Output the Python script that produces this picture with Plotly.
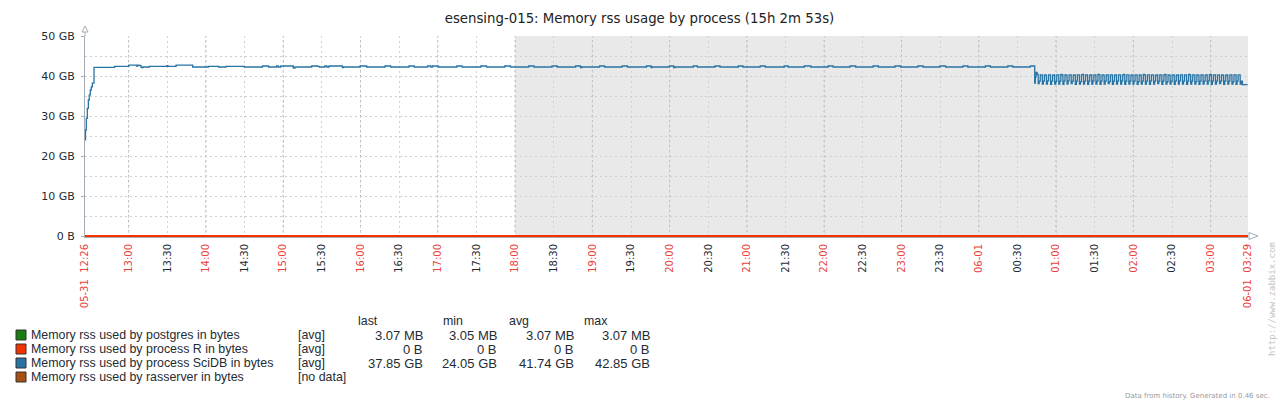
import pandas as pd
import plotly.graph_objects as go

# ---------------- data ----------------
start = pd.Timestamp("2017-05-31 12:26:07")
end = pd.Timestamp("2017-06-01 03:29:00")
off_hours_start = pd.Timestamp("2017-05-31 18:00:00")

# SciDB RSS in GB: step changes (minutes after start, value)
scidb_min = [0, 0.4, 1.0, 1.8, 2.6, 3.3, 4.1, 4.9, 5.7, 7.0, 23, 34, 40, 41, 42.5,
             43.6, 45, 50, 63.5, 64.3, 70.7, 83.6, 95.8, 103.7, 109.4, 123.7, 137.8,
             142.5, 148.7, 150, 152, 161.7, 163, 176, 180.4, 182, 186.2, 187.7, 189.5,
             199.8, 200.6, 213.5, 218.7, 232.9, 237.3, 251.5, 255.6, 266, 268.5, 269.8,
             274.2, 288.7, 292.8, 307.3, 311.7, 325.9, 330.3, 344.5, 348.6, 362.5,
             366.6, 380.9, 384.7, 385.7, 399.5, 403.4, 417, 421.1, 435.9, 439.5, 440.3,
             453.7, 457, 458.1, 472.3, 475.4, 489.1, 493, 507.2, 510.8, 524.2, 528.1,
             542.8, 545.9, 558.5, 563.5, 576.9, 580.8, 594, 598.3, 611.8, 615.9, 628.9,
             633.2, 646.6, 650.7, 663.7, 668.1, 681.6, 685.4, 699, 702.9, 716.4, 720.3,
             733.9, 737.3, 737.8]
scidb_gb = [24.05, 26.5, 29.4, 31.9, 34.0, 35.3, 36.5, 37.3, 38.2, 42.17, 42.42, 42.72,
            42.5, 42.72, 42.58, 42.08, 42.25, 42.42, 42.6, 42.42, 42.72, 42.25, 42.42,
            42.25, 42.42, 42.25, 42.5, 42.25, 42.5, 42.25, 42.5, 42.0, 42.25, 42.5,
            42.42, 42.25, 42.5, 42.25, 42.5, 42.08, 42.25, 42.5, 42.25, 42.5, 42.25,
            42.5, 42.25, 42.5, 42.25, 42.5, 42.25, 42.5, 42.25, 42.5, 42.25, 42.5,
            42.25, 42.5, 42.25, 42.5, 42.25, 42.5, 42.08, 42.25, 42.5, 42.25, 42.5,
            42.25, 42.5, 42.08, 42.25, 42.5, 42.08, 42.25, 42.5, 42.25, 42.5, 42.25,
            42.5, 42.25, 42.5, 42.25, 42.5, 42.25, 42.5, 42.25, 42.5, 42.25, 42.5,
            42.25, 42.5, 42.25, 42.5, 42.25, 42.5, 42.25, 42.5, 42.25, 42.5, 42.25,
            42.5, 42.25, 42.5, 42.25, 42.5, 38.2, 39.8]

# oscillating period after 00:44, one sample every 48 s
osc_start_min = 738.4
osc_step = "48s"
osc_gb = [
    40.9, 40.4, 38.1, 38.7, 40.3, 40.3, 38.0, 38.7,
    40.3, 40.2, 38.0, 38.8, 40.3, 40.3, 37.9, 38.7,
    40.2, 40.3, 38.0, 38.6, 40.3, 40.3, 38.0, 38.7,
    40.4, 40.3, 37.9, 38.7, 40.3, 40.2, 38.0, 38.8,
    40.3, 40.3, 38.1, 38.7, 40.2, 40.3, 37.9, 38.7,
    40.3, 40.3, 38.0, 38.6, 40.3, 40.4, 38.0, 38.7,
    40.3, 40.3, 37.9, 38.7, 40.2, 40.3, 38.0, 38.8,
    40.3, 40.3, 38.0, 38.7, 40.4, 40.3, 37.9, 38.7,
    40.3, 40.2, 38.0, 38.7, 40.3, 40.3, 38.1, 38.6,
    40.3, 40.3, 37.9, 38.7, 40.2, 40.3, 38.0, 38.7,
    40.3, 40.3, 38.0, 38.8, 40.3, 40.4, 37.9, 38.7,
    40.3, 40.3, 38.0, 38.7, 40.2, 40.3, 38.0, 38.7,
    40.3, 40.3, 37.9, 38.6, 40.3, 40.2, 38.0, 38.7,
    40.4, 40.3, 38.0, 38.7, 40.3, 40.3, 37.9, 38.8,
    40.3, 40.3, 38.0, 38.7, 40.2, 40.3, 38.1, 38.7,
    40.3, 40.3, 37.9, 38.7, 40.3, 40.4, 38.0, 38.6,
    40.3, 40.2, 38.0, 38.7, 40.3, 40.3, 37.9, 38.7,
    40.2, 40.3, 38.0, 38.8, 40.3, 40.3, 38.0, 38.7,
    40.3, 40.3, 37.9, 38.7, 40.4, 40.3, 38.0, 38.7,
    40.3, 40.3, 38.0, 38.6, 40.3, 40.2, 37.9, 38.7,
    40.3, 40.3, 38.0, 38.7, 40.2, 40.3, 38.0, 38.8,
    40.3, 40.4, 37.9, 38.7, 40.3, 40.3, 38.0, 38.7,
    40.3, 40.3, 38.1, 38.7, 40.3, 40.2, 37.9, 38.7,
    40.2, 40.3, 38.0, 38.7, 40.3, 40.3, 38.0, 38.6,
    40.3, 40.3, 37.9, 38.7, 40.3, 40.3, 38.0, 38.7,
]
tail_min = [898.5, 902.5]
tail_gb = [37.85, 37.85]

# other items (GB)
postgres_gb = [0.00307, 0.00307]
r_gb = [0.0, 0.0]

# y axis ticks
y_tick_vals = [0, 10, 20, 30, 40, 50]
y_tick_text = ["0 B", "10 GB", "20 GB", "30 GB", "40 GB", "50 GB"]

# x axis tick labels
tick_times = ["2017-05-31 12:26:07", "2017-05-31 13:00", "2017-05-31 13:30", "2017-05-31 14:00",
              "2017-05-31 14:30", "2017-05-31 15:00", "2017-05-31 15:30", "2017-05-31 16:00",
              "2017-05-31 16:30", "2017-05-31 17:00", "2017-05-31 17:30", "2017-05-31 18:00",
              "2017-05-31 18:30", "2017-05-31 19:00", "2017-05-31 19:30", "2017-05-31 20:00",
              "2017-05-31 20:30", "2017-05-31 21:00", "2017-05-31 21:30", "2017-05-31 22:00",
              "2017-05-31 22:30", "2017-05-31 23:00", "2017-05-31 23:30", "2017-06-01 00:00",
              "2017-06-01 00:30", "2017-06-01 01:00", "2017-06-01 01:30", "2017-06-01 02:00",
              "2017-06-01 02:30", "2017-06-01 03:00", "2017-06-01 03:29:00"]
tick_labels = ["05-31\u00a0 12:26", "13:00", "13:30", "14:00", "14:30", "15:00", "15:30",
               "16:00", "16:30", "17:00", "17:30", "18:00", "18:30", "19:00", "19:30", "20:00",
               "20:30", "21:00", "21:30", "22:00", "22:30", "23:00", "23:30", "06-01",
               "00:30", "01:00", "01:30", "02:00", "02:30", "03:00", "06-01\u00a0 03:29"]

# legend table
legend_names = ["Memory rss used by postgres in bytes", "Memory rss used by process R in bytes",
                "Memory rss used by process SciDB in bytes", "Memory rss used by rasserver in bytes"]
legend_func = ["[avg]", "[avg]", "[avg]", "[no data]"]
legend_last = ["3.07 MB", "0 B", "37.85 GB", ""]
legend_min = ["3.05 MB", "0 B", "24.05 GB", ""]
legend_avg = ["3.07 MB", "0 B", "41.74 GB", ""]
legend_max = ["3.07 MB", "0 B", "42.85 GB", ""]
series_colors = ["#1A7C11", "#F63100", "#2774A4", "#A54F10"]

title_text = "esensing-015: Memory rss usage by process (15h 2m 53s)"
footer_text = "Data from history. Generated in 0.46 sec."
watermark_text = "http://www.zabbix.com"

# ---------------- build ----------------
W, H = 1279, 404
L, R, T, B = 85, 1248, 36, 237
RED, DARK = "#E8413C", "#1F2C33"
FONT = "DejaVu Sans"
LEGFONT = "Liberation Sans"
LEGSIZE = 12.4
VALSIZE = 13


def px(x):
    return (x - L) / (R - L)


def py(y):
    return (B - y) / (B - T)


scidb_t = [start + pd.to_timedelta(m, unit="min") for m in scidb_min]
osc_t = list(pd.date_range(start + pd.to_timedelta(osc_start_min, unit="min"),
                           periods=len(osc_gb), freq=osc_step))
tail_t = [start + pd.to_timedelta(m, unit="min") for m in tail_min]
all_t = scidb_t + osc_t + tail_t
all_gb = scidb_gb + osc_gb + tail_gb

fig = go.Figure()
fig.add_trace(go.Scatter(x=[start, end], y=postgres_gb, mode="lines", line_shape="hv",
                         line=dict(color=series_colors[0], width=1.5), hoverinfo="skip"))
fig.add_trace(go.Scatter(x=all_t, y=all_gb, mode="lines", line_shape="hv",
                         line=dict(color=series_colors[2], width=1.3), hoverinfo="skip"))
fig.add_trace(go.Scatter(x=[start, end], y=r_gb, mode="lines", line_shape="hv",
                         line=dict(color=series_colors[1], width=2), hoverinfo="skip"))

is_red = [not lab.endswith(":30") for lab in tick_labels]
ticktext = [f'<span style="color:{RED if r else DARK}">{lab}</span>' for lab, r in zip(tick_labels, is_red)]

shapes = [dict(type="rect", xref="x", yref="paper", x0=off_hours_start, x1=end, y0=0, y1=1,
               fillcolor="#E9E9E9", line_width=0, layer="below")]
for t, r, lab in zip(tick_times, is_red, tick_labels):
    if r and lab not in (tick_labels[0], tick_labels[-1]):
        shapes.append(dict(type="line", xref="x", yref="paper", x0=t, x1=t, y0=0, y1=1,
                           line=dict(color="#A7B1BA", width=1, dash="2px,3px"), layer="between"))
# y axis arrow extension
ax_col = "#A3ADB6"
shapes.append(dict(type="line", xref="paper", yref="paper", x0=0, x1=0, y0=1, y1=py(31),
                   line=dict(color=ax_col, width=1)))
shapes.append(dict(type="path", xref="paper", yref="paper",
                   path=f"M {px(82)},{py(32)} L {px(85)},{py(26)} L {px(88)},{py(32)} Z",
                   line=dict(color=ax_col, width=1), fillcolor="white"))
# x axis arrow
shapes.append(dict(type="path", xref="paper", yref="paper",
                   path=f"M {px(1249)},{py(232.5)} L {px(1258)},{py(236)} L {px(1249)},{py(239.5)} Z",
                   line=dict(color=ax_col, width=1), fillcolor="white"))

annotations = []
# legend table
cols_x = [424, 498, 575, 651]
head_x = [368, 453, 519, 596]
for hx, h in zip(head_x, ["last", "min", "avg", "max"]):
    annotations.append(dict(x=px(hx), y=py(321), xref="paper", yref="paper", text=h,
                            showarrow=False, xanchor="center", yanchor="middle", borderpad=0,
                            font=dict(family=LEGFONT, size=LEGSIZE, color=DARK)))
row_y = [335, 349, 363, 377]
for i in range(4):
    yy = row_y[i]
    shapes.append(dict(type="rect", xref="paper", yref="paper",
                       x0=px(16), x1=px(26), y0=py(yy - 5), y1=py(yy + 5),
                       fillcolor=series_colors[i], line=dict(color="#333333", width=1)))
    annotations.append(dict(x=px(30), y=py(yy), xref="paper", yref="paper", text=legend_names[i],
                            showarrow=False, xanchor="left", yanchor="middle", borderpad=0,
                            font=dict(family=LEGFONT, size=LEGSIZE, color=DARK)))
    annotations.append(dict(x=px(297), y=py(yy), xref="paper", yref="paper", text=legend_func[i],
                            showarrow=False, xanchor="left", yanchor="middle", borderpad=0,
                            font=dict(family=LEGFONT, size=LEGSIZE, color=DARK)))
    for cx, vals in zip(cols_x, [legend_last, legend_min, legend_avg, legend_max]):
        if vals[i]:
            annotations.append(dict(x=px(cx), y=py(yy), xref="paper", yref="paper", text=vals[i],
                                    showarrow=False, xanchor="right", yanchor="middle", borderpad=0,
                                    font=dict(family=LEGFONT, size=VALSIZE, color=DARK)))

annotations.append(dict(x=px(1272), y=py(396), xref="paper", yref="paper", text=footer_text,
                        showarrow=False, xanchor="right", yanchor="middle",
                        font=dict(family=FONT, size=7, color="#9A9A9A")))
annotations.append(dict(x=px(1272), y=py(240), xref="paper", yref="paper", text=watermark_text,
                        showarrow=False, xanchor="center", yanchor="top", textangle=-90,
                        font=dict(family="DejaVu Sans Mono", size=9, color="#C4C4C4")))

fig.update_layout(
    width=W, height=H, autosize=False,
    margin=dict(l=L, r=W - R, t=T, b=H - B, pad=0),
    paper_bgcolor="white", plot_bgcolor="white",
    showlegend=False,
    title=dict(text=title_text, x=0.5, xanchor="center", y=1 - 18 / H, yanchor="middle",
               yref="container", font=dict(family=FONT, size=13.3, color="#222222")),
    font=dict(family=FONT, color=DARK),
    shapes=shapes, annotations=annotations,
    xaxis=dict(range=[start, end], tickmode="array", tickvals=tick_times, ticktext=ticktext,
               tickangle=-90, tickfont=dict(family=FONT, size=10), showgrid=True,
               gridcolor="#CDD3D9", griddash="2px,3px", gridwidth=1, showline=True,
               linecolor=ax_col, zeroline=False, ticks="", ticklabelstandoff=2,
               layer="below traces", fixedrange=True),
    yaxis=dict(range=[-0.25, 50], tickmode="array", tickvals=y_tick_vals, ticktext=y_tick_text,
               tickfont=dict(family=FONT, size=11, color=DARK), showgrid=True,
               gridcolor="#C8CFD6", griddash="2px,3px", gridwidth=1,
               minor=dict(dtick=5, tick0=0, showgrid=True, gridcolor="#C8CFD6",
                          griddash="2px,3px", gridwidth=1),
               showline=True, linecolor=ax_col, zeroline=False, ticks="outside", ticklen=3,
               tickcolor=ax_col, ticklabelstandoff=4, layer="below traces", fixedrange=True),
)

fig.write_html("out.html", config={"displayModeBar": False},
               post_script="document.body.style.margin='0';document.body.style.overflow='hidden';")
